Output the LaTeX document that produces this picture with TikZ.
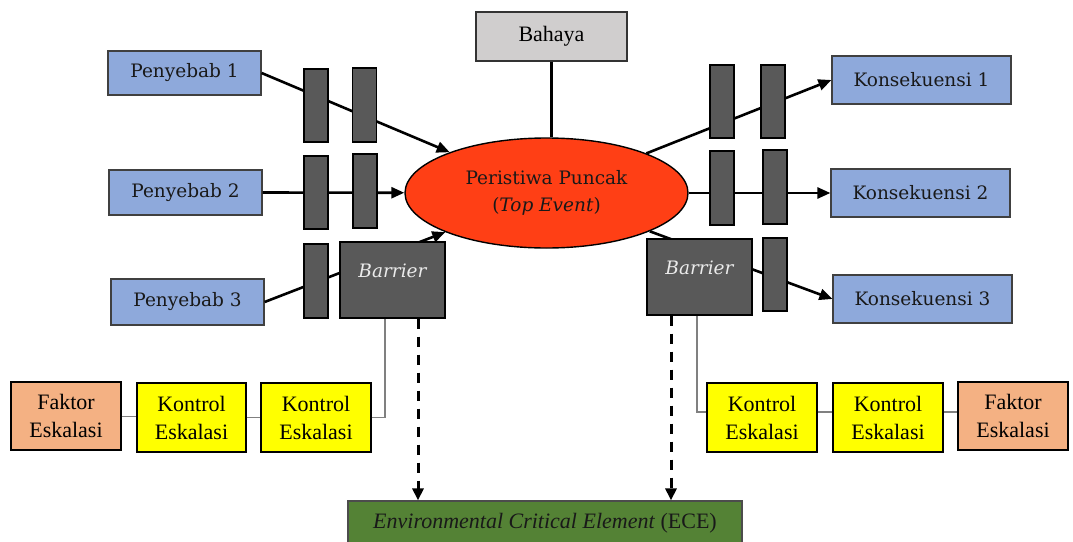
\documentclass[tikz,border=0pt]{standalone}
\usepackage{fontspec}
\usetikzlibrary{shapes.geometric,arrows.meta,calc}
\newfontfamily\tnr{Liberation Serif}
\newfontfamily\cmb{DejaVu Serif}
\definecolor{cblue}{HTML}{8EA9DB}
\definecolor{cgray}{HTML}{D0CECE}
\definecolor{cred}{HTML}{FF3F15}
\definecolor{cbar}{HTML}{595959}
\definecolor{cyel}{HTML}{FFFF00}
\definecolor{corg}{HTML}{F4B183}
\definecolor{cgreen}{HTML}{548235}
\definecolor{cline}{HTML}{808080}
\tikzset{
  bluebox/.style={draw=black!75, line width=1.2pt, fill=cblue, inner sep=0pt, text=black!90, font=\cmb\fontsize{18.5}{23}\selectfont},
  bahbox/.style={draw=black!80, line width=1.2pt, fill=cgray, inner sep=0pt, font=\tnr\fontsize{22}{27}\selectfont},
  barbox/.style={draw=black, line width=1.4pt, fill=cbar, inner sep=0pt, minimum width=24pt},
  bigbar/.style={draw=black, line width=1.4pt, fill=cbar, inner sep=0pt, minimum width=105pt, minimum height=76pt},
  bartext/.style={inner sep=0pt, text=white!92!black, font=\cmb\itshape\fontsize{18.5}{23}\selectfont},
  escbox/.style={draw=black, line width=1.4pt, inner sep=0pt, align=center, minimum width=110pt, minimum height=69pt, font=\tnr\fontsize{22}{28}\selectfont},
  conn/.style={line width=2.6pt, -{Triangle[length=13pt,width=11pt]}},
  plain/.style={line width=2.6pt},
  graylink/.style={draw=cline, line width=1.5pt},
  dasharrow/.style={line width=3pt, dash pattern=on 10pt off 8pt, -{Triangle[length=12pt,width=11pt]}}
}
\begin{document}
\begin{tikzpicture}[x=1pt,y=-1pt]
\useasboundingbox (0,0) rectangle (1073,541);
% main nodes
\node[bahbox, minimum width=151pt, minimum height=49pt] (bahaya) at (551.5,36.5) {Bahaya};
\node[bluebox, minimum width=153pt, minimum height=44pt] (pen1) at (184.5,73) {Penyebab 1};
\node[bluebox, minimum width=153pt, minimum height=45pt] (pen2) at (185.5,192.5) {Penyebab 2};
\node[bluebox, minimum width=153pt, minimum height=46pt] (pen3) at (187.5,302) {Penyebab 3};
\node[bluebox, minimum width=179pt, minimum height=48pt] (kon1) at (921.5,80) {Konsekuensi 1};
\node[bluebox, minimum width=179pt, minimum height=48pt] (kon2) at (920.5,193) {Konsekuensi 2};
\node[bluebox, minimum width=179pt, minimum height=48pt] (kon3) at (922.5,299) {Konsekuensi 3};
\node[ellipse, draw=black, line width=1.4pt, fill=cred, inner sep=0pt, minimum width=283pt, minimum height=110pt, align=center, text=black!90, font=\cmb\fontsize{18.5}{27}\selectfont] (top) at (546.5,193) {Peristiwa Puncak\\(\textit{Top Event})};
% connectors
\draw[plain] (bahaya.south) -- (bahaya.south |- top.north);
\draw[conn] (pen1.east) -- (top);
\draw[conn] (pen2.east) -- (top);
\draw[conn] (pen3.east) -- (top);
\draw[conn] (top) -- (kon1.west);
\draw[conn] (top) -- (kon2.west);
\draw[conn] (top) -- (kon3.west);
% barriers left
\node[barbox, minimum height=73pt] (b1a) at (316,105.5) {};
\node[barbox, minimum height=74pt] (b1b) at (364.5,105) {};
\node[barbox, minimum height=73pt] (b2a) at (316,192.5) {};
\node[barbox, minimum height=74pt] (b2b) at (365,191) {};
\node[barbox, minimum height=74pt] (b3a) at (316,281) {};
\node[bigbar] (barL) at (392.5,280) {};
\node[bartext] (barLt) at ([yshift=-30pt]barL.north) {Barrier};
% barriers right
\node[barbox, minimum height=73pt] (r1a) at (722,101.5) {};
\node[barbox, minimum height=73pt] (r1b) at (773,101.5) {};
\node[barbox, minimum height=74pt] (r2a) at (722,188) {};
\node[barbox, minimum height=74pt] (r2b) at (775,187) {};
\node[bigbar] (barR) at (699.5,277) {};
\node[bartext] (barRt) at ([yshift=-30pt]barR.north) {Barrier};
\node[barbox, minimum height=73pt] (r3b) at (775,274.5) {};
% escalation boxes
\node[escbox, fill=corg, minimum height=68pt] (fl) at (66,416) {Faktor\\Eskalasi};
\node[escbox, fill=cyel, minimum width=109pt] (kl1) at (191.5,417.5) {Kontrol\\Eskalasi};
\node[escbox, fill=cyel] (kl2) at (316,417.5) {Kontrol\\Eskalasi};
\node[escbox, fill=cyel] (kr1) at (762,417.5) {Kontrol\\Eskalasi};
\node[escbox, fill=cyel] (kr2) at (888,417.5) {Kontrol\\Eskalasi};
\node[escbox, fill=corg, minimum height=68pt] (fr) at (1013,416) {Faktor\\Eskalasi};
% ECE
\node[draw=black!70, line width=1.2pt, fill=cgreen, inner sep=0pt, minimum width=394pt, minimum height=44pt, font=\tnr\fontsize{22}{27}\selectfont, text=black!90] (ece) at (545,523) {\textit{Environmental Critical Element} (ECE)};
% gray links
\draw[graylink] ([yshift=-0.5pt]fl.east) -- ([yshift=-0.5pt]fl.east -| kl1.west);
\draw[graylink] (kl1.east) -- (kl2.west);
\draw[graylink] (kl2.east) -| ([xshift=-7.5pt]barL.south);
\draw[graylink] ([yshift=5.5pt]kr1.west) -| ([xshift=-2.5pt]barR.south);
\draw[graylink] ([yshift=5.5pt]kr1.east) -- ([yshift=5.5pt]kr2.west);
\draw[graylink] ([yshift=5.5pt]kr2.east) -- ([yshift=5.5pt]kr2.east -| fr.west);
% dashed arrows
\draw[dasharrow] ([xshift=25.5pt]barL.south) -- ([xshift=25.5pt]barL.south |- ece.north);
\draw[dasharrow] ([xshift=-28.5pt]barR.south) -- ([xshift=-28.5pt]barR.south |- ece.north);
\end{tikzpicture}
\end{document}
